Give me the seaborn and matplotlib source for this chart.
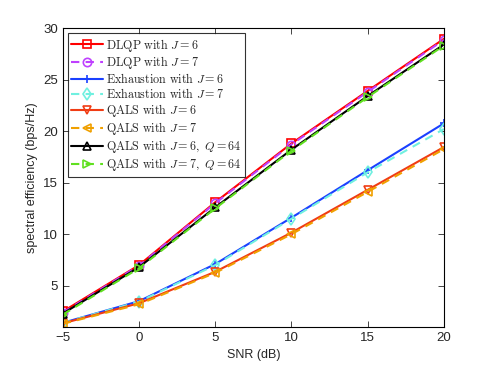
import numpy as np
import pandas as pd
import matplotlib
matplotlib.use("Agg")
import matplotlib.pyplot as plt
import seaborn as sns

# Data
snr = [-5, 0, 5, 10, 15, 20]

dlqp_j6 = [2.5, 7.0, 13.1, 18.8, 23.9, 28.95]
dlqp_j7 = [2.4, 6.95, 13.0, 18.7, 23.8, 28.85]
exh_j6 = [1.4, 3.5, 7.1, 11.6, 16.2, 20.75]
exh_j7 = [1.4, 3.45, 7.0, 11.5, 16.0, 20.2]
qals_j6 = [1.35, 3.3, 6.35, 10.15, 14.3, 18.45]
qals_j7 = [1.3, 3.2, 6.25, 10.0, 14.1, 18.25]
qals_j6_q64 = [2.3, 6.8, 12.6, 18.2, 23.4, 28.4]
qals_j7_q64 = [2.2, 6.7, 12.5, 18.1, 23.3, 28.3]

labels = [
    r"$\mathrm{DLQP\ with\ }J{=}6$",
    r"$\mathrm{DLQP\ with\ }J{=}7$",
    r"$\mathrm{Exhaustion\ with\ }J{=}6$",
    r"$\mathrm{Exhaustion\ with\ }J{=}7$",
    r"$\mathrm{QALS\ with\ }J{=}6$",
    r"$\mathrm{QALS\ with\ }J{=}7$",
    r"$\mathrm{QALS\ with\ }J{=}6\mathrm{,\ }Q{=}64$",
    r"$\mathrm{QALS\ with\ }J{=}7\mathrm{,\ }Q{=}64$",
]
series = [dlqp_j6, dlqp_j7, exh_j6, exh_j7, qals_j6, qals_j7, qals_j6_q64, qals_j7_q64]
colors = ["#ff0000", "#bf40ff", "#1a40ff", "#70f0e0", "#f03c14", "#f0a000", "#000000", "#60e020"]
markers = ["s", "o", "+", "d", "v", "<", "^", ">"]
styles = ["-", "--", "-", "--", "-", "--", "-", "--"]

sns.set_style("ticks")
plt.rcParams["font.family"] = ["Liberation Sans", "DejaVu Sans"]
plt.rcParams["mathtext.fontset"] = "cm"

fig = plt.figure(figsize=(4.91, 3.69), dpi=100)
ax = fig.add_axes([0.128, 0.114, 0.776, 0.81])

for vals, lab, c, m, ls in zip(series, labels, colors, markers, styles):
    sns.lineplot(x=snr, y=vals, ax=ax, color=c, linestyle=ls, linewidth=1.5,
                 marker=m, markersize=6, markerfacecolor="none",
                 markeredgecolor=c, markeredgewidth=1.2, label=lab)
    if ls == "--":
        ax.lines[-1].set_dashes((4, 3))

ax.set_xlim(-5, 20)
ax.set_ylim(1, 30)
ax.set_xticks([-5, 0, 5, 10, 15, 20])
ax.set_xticklabels(["\u22125", "0", "5", "10", "15", "20"])
ax.set_yticks([5, 10, 15, 20, 25, 30])
ax.tick_params(direction="in", top=True, right=True, labelsize=9.5, length=4, width=0.6)
for s in ax.spines.values():
    s.set_linewidth(0.8)
    s.set_color("black")
ax.set_xlabel("SNR (dB)", fontsize=9)
ax.set_ylabel("spectral efficiency (bps/Hz)", fontsize=9)

leg = ax.legend(loc="upper left", fontsize=8.7, handlelength=2.6, handletextpad=0.3,
                frameon=True, fancybox=False, borderpad=0.3, labelspacing=0.08,
                borderaxespad=0.4)
leg.get_frame().set_edgecolor("black")
leg.get_frame().set_linewidth(0.8)

fig.savefig("out.png", dpi=100)
